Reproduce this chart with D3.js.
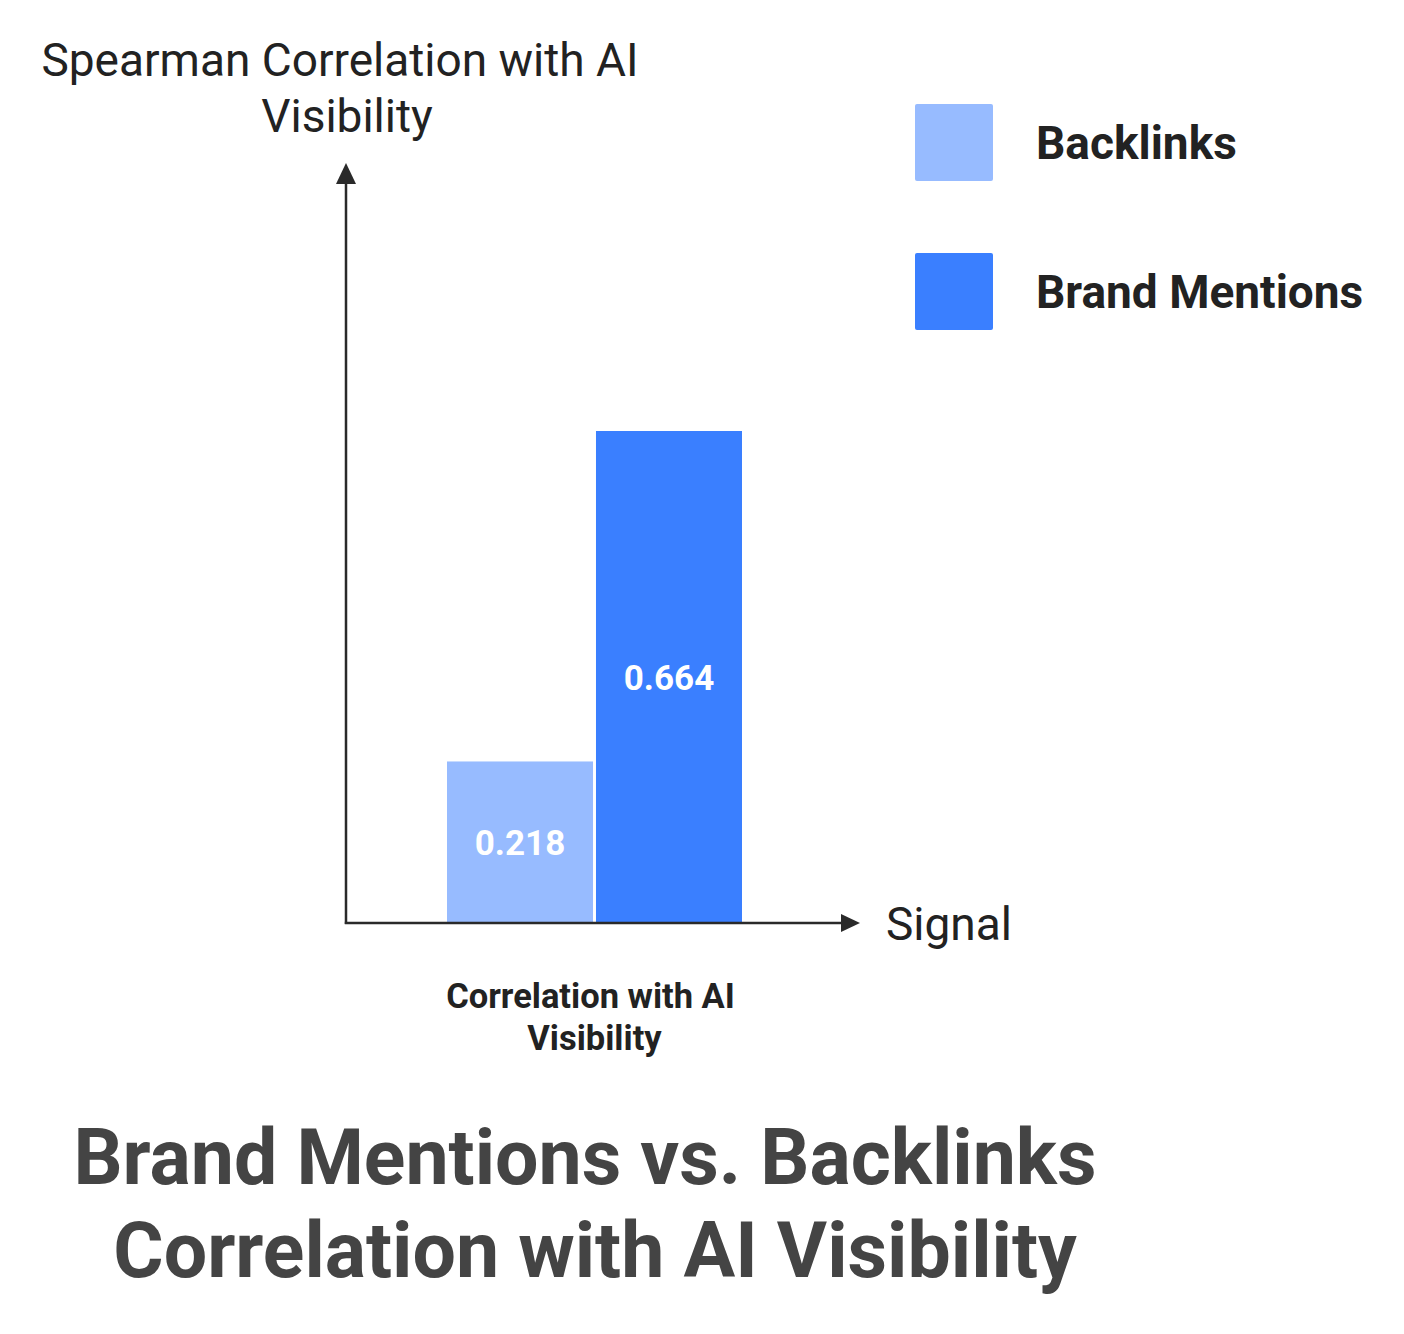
<!DOCTYPE html>
<html>
<head>
<meta charset="utf-8">
<script src="https://cdn.jsdelivr.net/npm/d3@7"></script>
<style>
  body { margin: 0; background: #fff; }
  svg { display: block; font-family: Roboto, "Noto Sans", sans-serif; }
</style>
</head>
<body>
<svg id="chart" width="1404" height="1334"></svg>
<script>
  // data
  var categories = ["Correlation with AI Visibility"];
  var seriesNames = ["Backlinks", "Brand Mentions"];
  var backlinks = [0.218];
  var brandMentions = [0.664];
  var colors = ["#97bbff", "#3a7fff"];

  var svg = d3.select("#chart");
  var x0 = 346, y0 = 923;

  var y = d3.scaleLinear().domain([0, 0.664]).range([y0, 431]);
  var xCat = d3.scaleBand().domain(categories).range([447, 742]).padding(0);
  var xSeries = d3.scaleBand().domain(seriesNames).range([0, xCat.bandwidth()]).paddingInner(0.02);

  var rows = categories.map(function(c, i){
    return { cat: c, values: [backlinks[i], brandMentions[i]] };
  });

  var groups = svg.selectAll("g.grp")
    .data(rows)
    .enter().append("g")
    .attr("class", "grp")
    .attr("transform", function(d){ return "translate(" + xCat(d.cat) + ",0)"; });

  var bars = groups.selectAll("g.bar")
    .data(function(d){ return d.values.map(function(v, j){ return { name: seriesNames[j], v: v, j: j }; }); })
    .enter().append("g").attr("class", "bar");

  bars.append("rect")
    .attr("x", function(d){ return xSeries(d.name); })
    .attr("y", function(d){ return y(d.v); })
    .attr("width", xSeries.bandwidth())
    .attr("height", function(d){ return y(0) - y(d.v); })
    .attr("fill", function(d){ return colors[d.j]; });

  bars.append("text")
    .attr("x", function(d){ return xSeries(d.name) + xSeries.bandwidth() / 2; })
    .attr("y", function(d){ return (y(d.v) + y(0)) / 2; })
    .attr("dy", "0.36em")
    .attr("text-anchor", "middle")
    .attr("fill", "#fff")
    .attr("font-weight", 700)
    .attr("font-size", 35)
    .text(function(d){ return d.v.toFixed(3); });

  // axes with arrows
  svg.append("line")
    .attr("x1", x0).attr("y1", y0 + 1).attr("x2", x0).attr("y2", 180)
    .attr("stroke", "#2a2a2a").attr("stroke-width", 2.5);
  svg.append("path")
    .attr("d", "M" + x0 + ",163L" + (x0 + 10) + ",184L" + (x0 - 10) + ",184Z")
    .attr("fill", "#2a2a2a");
  svg.append("line")
    .attr("x1", x0 - 1.2).attr("y1", y0).attr("x2", 845).attr("y2", y0)
    .attr("stroke", "#2a2a2a").attr("stroke-width", 2.5);
  svg.append("path")
    .attr("d", "M860," + y0 + "L841," + (y0 - 9) + "L841," + (y0 + 9) + "Z")
    .attr("fill", "#2a2a2a");

  // axis titles
  var yTitle = svg.append("text")
    .attr("text-anchor", "middle")
    .attr("font-size", 46)
    .attr("fill", "#222");
  yTitle.append("tspan").attr("x", 340).attr("y", 76).text("Spearman Correlation with AI");
  yTitle.append("tspan").attr("x", 347).attr("y", 132).text("Visibility");

  svg.append("text")
    .attr("x", 886).attr("y", 940)
    .attr("font-size", 46)
    .attr("fill", "#222")
    .text("Signal");

  // category labels
  groups.append("text")
    .attr("text-anchor", "middle")
    .attr("font-size", 34.5)
    .attr("font-weight", 700)
    .attr("fill", "#222")
    .each(function(d){
      var t = d3.select(this);
      var words = d.cat.split(" ");
      var l1 = words.slice(0, 3).join(" "), l2 = words.slice(3).join(" ");
      t.append("tspan").attr("x", xCat.bandwidth() / 2 - 4).attr("y", 1008).text(l1);
      t.append("tspan").attr("x", xCat.bandwidth() / 2).attr("y", 1050).text(l2);
    });

  // legend
  var legend = svg.selectAll("g.leg")
    .data(seriesNames)
    .enter().append("g")
    .attr("class", "leg")
    .attr("transform", function(d, i){ return "translate(915," + (104 + i * 149) + ")"; });
  legend.append("rect")
    .attr("width", 78).attr("height", 77).attr("rx", 2)
    .attr("fill", function(d, i){ return colors[i]; });
  legend.append("text")
    .attr("x", 121).attr("y", 55)
    .attr("font-size", 46).attr("font-weight", 700)
    .attr("fill", "#222")
    .text(function(d){ return d; });

  // title
  var title = svg.append("text")
    .attr("text-anchor", "middle")
    .attr("font-size", 77)
    .attr("font-weight", 700)
    .attr("fill", "#444");
  title.append("tspan").attr("x", 585).attr("y", 1184).text("Brand Mentions vs. Backlinks");
  title.append("tspan").attr("x", 595).attr("y", 1277).text("Correlation with AI Visibility");
</script>
</body>
</html>
